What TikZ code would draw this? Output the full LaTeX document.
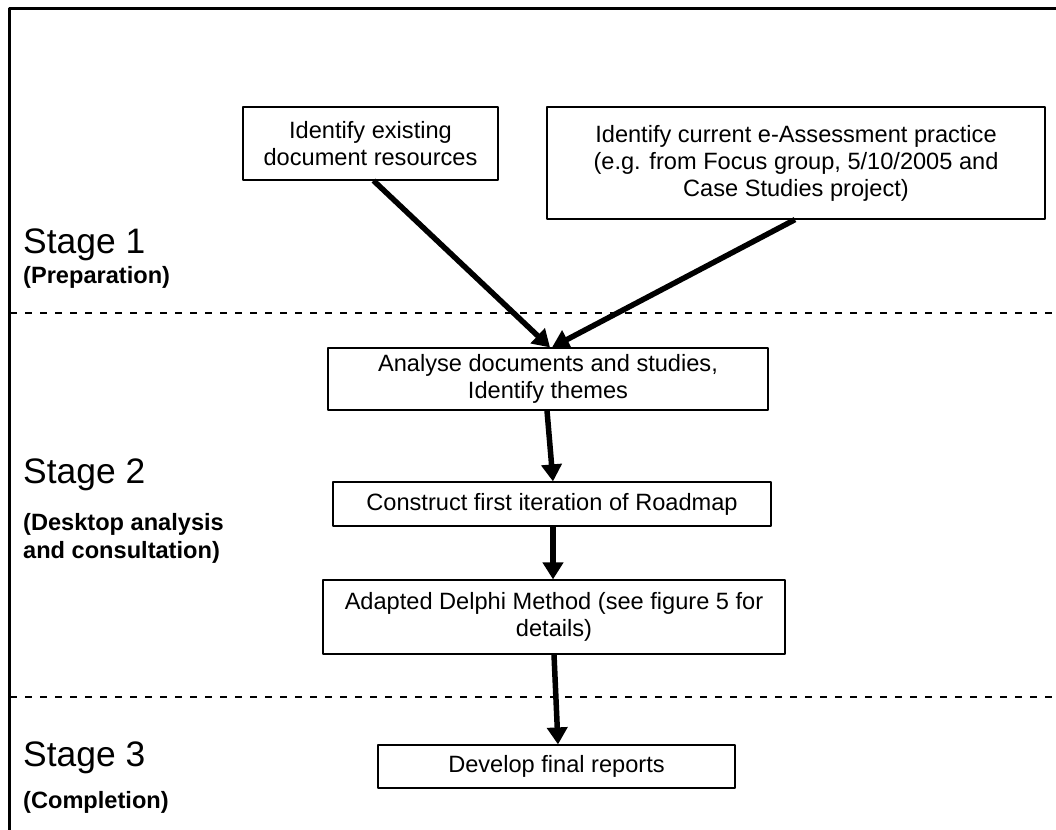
\documentclass[tikz,border=0pt]{standalone}
\usepackage{fontspec}
\setmainfont{Liberation Sans}
\usetikzlibrary{arrows.meta}
\begin{document}
\begin{tikzpicture}[x=1bp,y=-1bp,>={Triangle[length=17bp,width=20bp]},line join=bevel,
  task/.style={draw,line width=1.2bp,inner sep=0pt,align=center,
    font=\fontsize{23.6bp}{27bp}\selectfont},
  flow/.style={->,line width=5.5bp},
  stagename/.style={anchor=base west,inner sep=0pt,font=\fontsize{35.4bp}{40bp}\selectfont},
  stagenote/.style={anchor=base west,inner sep=0pt,font=\fontsize{23.6bp}{27bp}\selectfont\bfseries},
  divider/.style={line width=1.3bp,dash pattern=on 7bp off 8bp}]
  \useasboundingbox (0,0) rectangle (1056,830);
%%
  % Frame
  \draw [line width=3bp] (9,830) -- (9,8) -- (1056,8);
  % Stage dividers
  \draw [divider] (10,313) -- (1056,313);
  \draw [divider] (10,697) -- (1056,697);
  % Stage labels
  \node [stagename] (s1) at (23,253) {Stage 1};
  \node [stagenote] (s1note) at (23,283) {(Preparation)};
  \node [stagename] (s2) at (23,483) {Stage 2};
  \node [stagenote] (s2note) at (23,530) {(Desktop analysis};
  \node [stagenote] (s2more) at (23,558) {and consultation)};
  \node [stagename] (s3) at (23,766) {Stage 3};
  \node [stagenote] (s3note) at (23,808) {(Completion)};
  % Node: existing resources
  \node [task,minimum width=255bp,minimum height=73bp] (docs) at (370.5,143.5)
    {Identify existing\\document resources};
  % Node: current practice
  \node [task,minimum width=498bp,minimum height=112bp] (practice) at (796,163)
    {Identify current e-Assessment practice\\(e.g. from Focus group, 5/10/2005 and\\Case Studies project)};
  % Node: analyse
  \node [task,minimum width=440bp,minimum height=62bp] (analyse) at (548,379)
    {Analyse documents and studies,\\Identify themes};
  % Node: roadmap
  \node [task,minimum width=438bp,minimum height=44bp] (roadmap) at (552,504)
    {Construct first iteration of Roadmap};
  % Node: delphi
  \node [task,minimum width=462bp,minimum height=74bp] (delphi) at (554,617)
    {Adapted Delphi Method (see figure 5 for\\details)};
  % Node: reports
  \node [task,minimum width=357bp,minimum height=43bp] (reports) at (556.5,766.5)
    {Develop final reports};
%%
  % Edge: docs -> analyse
  \draw [flow] ([xshift=3bp]docs.south) -- ([xshift=2bp]analyse.north);
  % Edge: practice -> analyse
  \draw [flow] ([xshift=-1bp]practice.south) -- ([xshift=4bp]analyse.north);
  % Edge: analyse -> roadmap
  \draw [flow] ([xshift=-1bp]analyse.south) -- ([xshift=1bp]roadmap.north);
  % Edge: roadmap -> delphi
  \draw [flow] ([xshift=1bp]roadmap.south) -- ([xshift=-1bp]delphi.north);
  % Edge: delphi -> reports
  \draw [flow] (delphi.south) -- ([xshift=1.5bp]reports.north);
%
\end{tikzpicture}
\end{document}
